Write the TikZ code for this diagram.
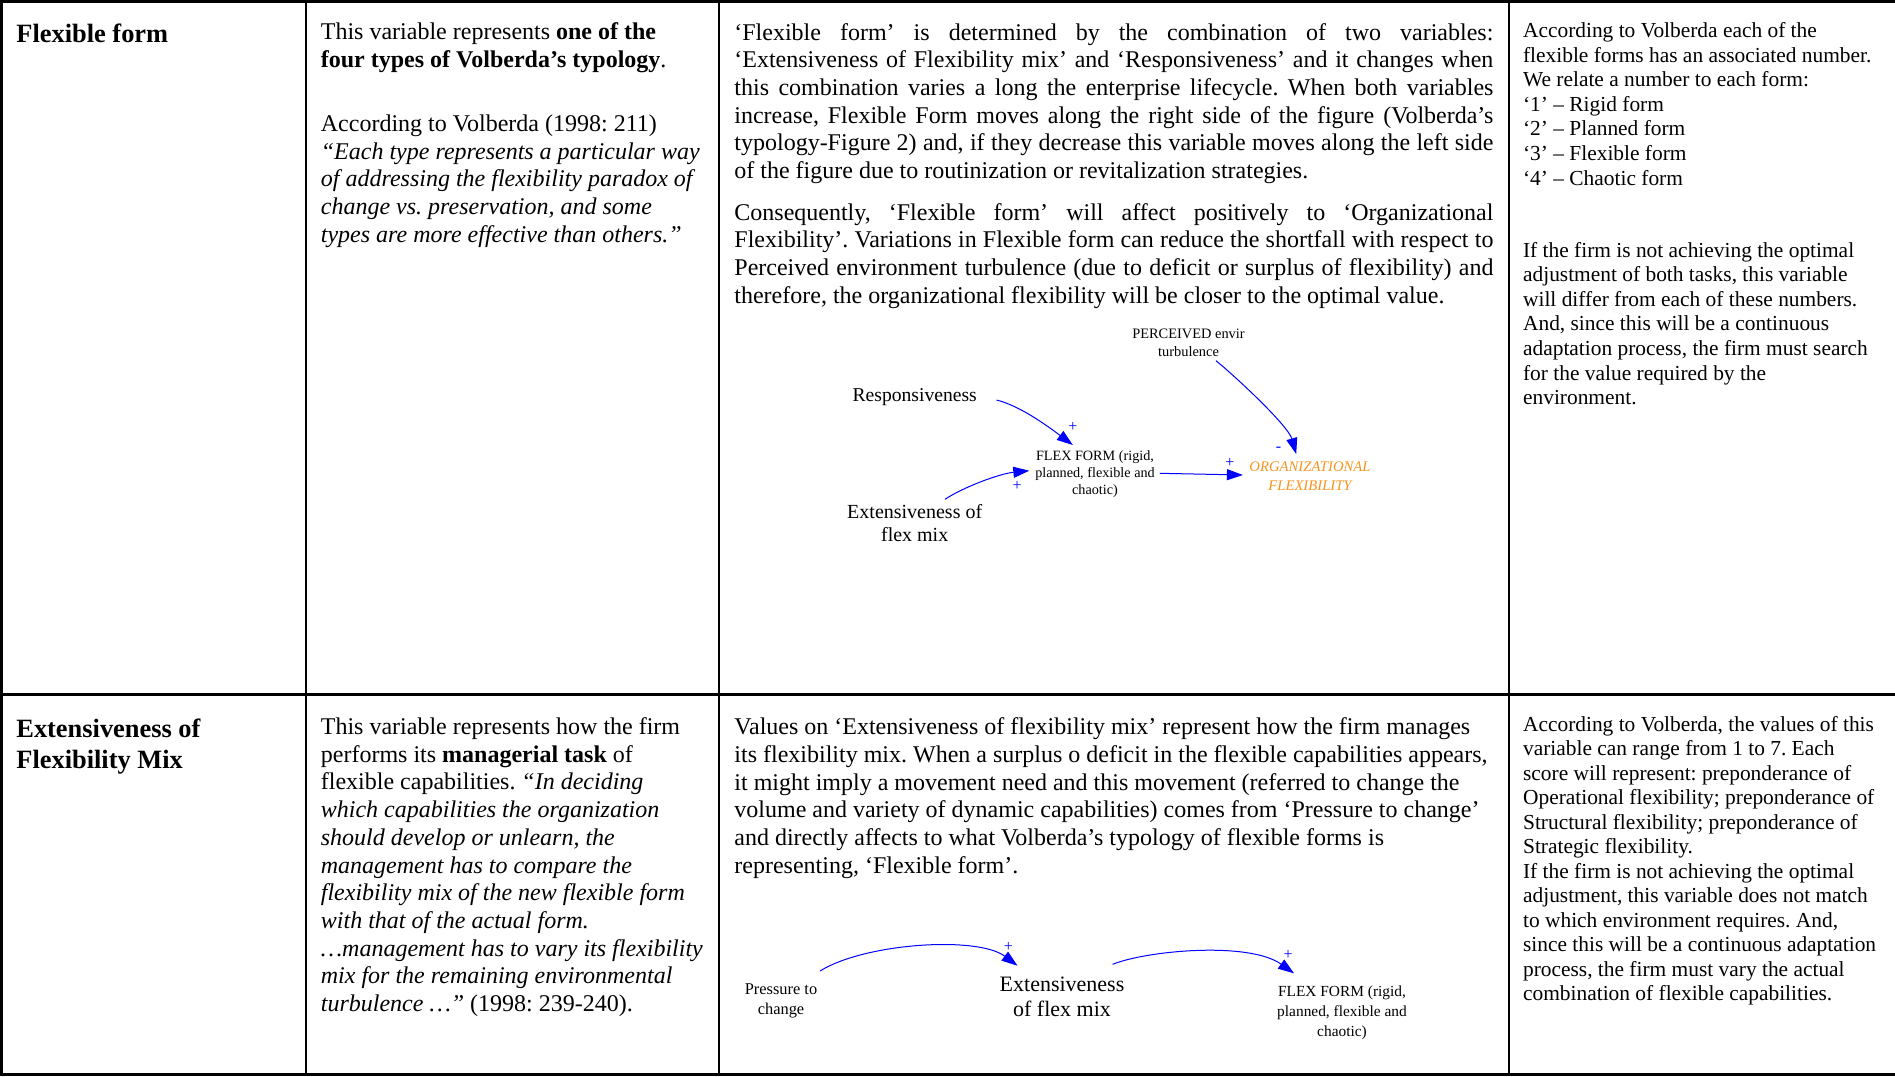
\documentclass[tikz,border=0pt]{standalone}
\usepackage{fontspec}
\setmainfont{Liberation Serif}
\usetikzlibrary{arrows.meta}
\frenchspacing
\definecolor{linkblue}{RGB}{0,0,255}
\definecolor{flexorange}{RGB}{247,148,30}
% use the font's own (stretchable) interword spaces
\newcommand\plainspaces{\spaceskip=0pt\relax\xspaceskip=0pt\relax}
% one fully justified line of a paragraph
\newcommand\jline[1]{\hbox to\linewidth{\plainspaces#1}\par}
\begin{document}
\begin{tikzpicture}[x=0.5pt,y=-0.5pt,
  rule/.style={line width=1.35pt},
  heading/.style={anchor=base west, inner sep=0pt, text width=170pt, align=left,
    font=\fontsize{13.2}{15.5}\selectfont\bfseries},
  celltext/.style={anchor=base west, inner sep=0pt, text width=#1, align=left,
    font=\fontsize{12}{13.85}\selectfont},
  notetext/.style={anchor=base west, inner sep=0pt, text width=186pt, align=left,
    font=\fontsize{10.7}{12.25}\selectfont},
  var/.style={inner sep=0pt, align=center},
  link/.style={draw=linkblue, line width=0.5pt, -{Triangle[length=8pt,width=5.5pt]}},
  pol/.style={inner sep=0pt, text=linkblue, font=\fontsize{8}{8}\selectfont},
]
\useasboundingbox (0,0) rectangle (1895,1076);

% ---- table rules ----
\draw[rule] (0,1.35) -- (1895,1.35);
\draw[rule] (0,694.3) -- (1895,694.3);
\draw[rule] (0,1074.2) -- (1895,1074.2);
\draw[rule] (1.35,0) -- (1.35,1076);
\draw[rule] (306,0) -- (306,1076);
\draw[rule] (719,0) -- (719,1076);
\draw[rule] (1509,0) -- (1509,1076);

% ---- row 1: Flexible form ----
\node[heading] (h1) at (16,42.5) {\plainspaces Flexible form};

\node[celltext=200pt] (typedef) at (320.5,39.5)
  {\plainspaces This variable represents \textbf{one of the}\\
   \textbf{four types of Volberda’s typology}.};
\node[celltext=200pt] (typequote) at (320.5,131.5)
  {\plainspaces According to Volberda (1998: 211)\\
   \textit{“Each type represents a particular way}\\
   \textit{of addressing the flexibility paradox of}\\
   \textit{change vs. preservation, and some}\\
   \textit{types are more effective than others.”}};

\node[celltext=379.5pt] (ffexpl) at (734,40)
  {\plainspaces
   \jline{‘Flexible form’ is determined by the combination of two variables:}
   \jline{‘Extensiveness of Flexibility mix’ and ‘Responsiveness’ and it changes when}
   \jline{this combination varies a long the enterprise lifecycle. When both variables}
   \jline{increase, Flexible Form moves along the right side of the figure (Volberda’s}
   \jline{typology-Figure 2) and, if they decrease this variable moves along the left side}
   of the figure due to routinization or revitalization strategies.};
\node[celltext=379.5pt] (ffconseq) at (734,220)
  {\plainspaces
   \jline{Consequently, ‘Flexible form’ will affect positively to ‘Organizational}
   \jline{Flexibility’. Variations in Flexible form can reduce the shortfall with respect to}
   \jline{Perceived environment turbulence (due to deficit or surplus of flexibility) and}
   therefore, the organizational flexibility will be closer to the optimal value.};

% causal diagram for the flexible form
\node[var, font=\fontsize{7.2}{9.2}\selectfont] (perc) at (1188.5,343) {PERCEIVED envir\\turbulence};
\node[var, font=\fontsize{9.8}{11}\selectfont] (resp) at (914.7,396.7) {Responsiveness};
\node[var, font=\fontsize{7.1}{8.6}\selectfont] (ffa) at (1095,474) {FLEX FORM (rigid,\\planned, flexible and\\chaotic)};
\node[var, font=\fontsize{7.35}{9.6}\selectfont\itshape, text=flexorange] (orgf) at (1310,476.5) {ORGANIZATIONAL\\FLEXIBILITY};
\node[var, font=\fontsize{10}{11.7}\selectfont] (extA) at (914.7,523.3) {Extensiveness of\\flex mix};

\draw[link] ([shift={(81.8,3.3)}]resp.center) .. controls +(25,6) and +(-20,-15) .. ([shift={(-22.2,-29)}]ffa.center);
\draw[link] ([shift={(30.3,-24)}]extA.center) .. controls +(18,-12) and +(-30,3) .. ([shift={(-65.7,-3.3)}]ffa.center);
\draw[link] ([shift={(64.8,-0.7)}]ffa.center) -- ([shift={(-67.1,-1.5)}]orgf.center);
\draw[link] ([shift={(27.5,17.7)}]perc.center) .. controls +(22,18) and +(-8,-28) .. ([shift={(-13.8,-22.5)}]orgf.center);

\node[pol] (pa1) at (1072.8,427.3) {+};
\node[pol] (pa2) at (1017,486) {+};
\node[pol] (pa3) at (1229.8,463.3) {+};
\node[pol] (pa4) at (1278.4,449.3) {-};

\node[notetext, font=\fontsize{10.7}{12.3}\selectfont] (numbers) at (1522.7,37.5)
  {\plainspaces According to Volberda each of the\\
   flexible forms has an associated number.\\
   We relate a number to each form:\\
   ‘1’ – Rigid form\\
   ‘2’ – Planned form\\
   ‘3’ – Flexible form\\
   ‘4’ – Chaotic form};
\node[notetext, font=\fontsize{10.7}{12.3}\selectfont] (search) at (1522.7,257)
  {\plainspaces If the firm is not achieving the optimal\\
   adjustment of both tasks, this variable\\
   will differ from each of these numbers.\\
   And, since this will be a continuous\\
   adaptation process, the firm must search\\
   for the value required by the\\
   environment.};

% ---- row 2: Extensiveness of Flexibility Mix ----
\node[heading] (h2) at (16,737.7) {\plainspaces Extensiveness of\\Flexibility Mix};

\node[celltext=200pt] (mixdef) at (320.5,734.5)
  {\plainspaces This variable represents how the firm\\
   performs its \textbf{managerial task} of\\
   flexible capabilities. \textit{“In deciding}\\
   \textit{which capabilities the organization}\\
   \textit{should develop or unlearn, the}\\
   \textit{management has to compare the}\\
   \textit{flexibility mix of the new flexible form}\\
   \textit{with that of the actual form.}\\
   \textit{…management has to vary its flexibility}\\
   \textit{mix for the remaining environmental}\\
   \textit{turbulence …”} (1998: 239-240).};

\node[celltext=388pt] (mixexpl) at (734,734.6)
  {\plainspaces Values on ‘Extensiveness of flexibility mix’ represent how the firm manages\\
   its flexibility mix. When a surplus o deficit in the flexible capabilities appears,\\
   it might imply a movement need and this movement (referred to change the\\
   volume and variety of dynamic capabilities) comes from ‘Pressure to change’\\
   and directly affects to what Volberda’s typology of flexible forms is\\
   representing, ‘Flexible form’.};

% causal chain for the flexibility mix
\node[var, font=\fontsize{8.2}{10}\selectfont] (press) at (781,1001) {Pressure to\\change};
\node[var, font=\fontsize{11}{12.2}\selectfont] (extB) at (1062,997) {Extensiveness\\of flex mix};
\node[var, font=\fontsize{7.7}{10}\selectfont] (ffb) at (1342,1012.5) {FLEX FORM (rigid,\\planned, flexible and\\chaotic)};

\draw[link] ([shift={(39,-30)}]press.center) .. controls +(45,-28) and +(-40,-30) .. ([shift={(-44.5,-31.3)}]extB.center);
\draw[link] ([shift={(50.6,-32.7)}]extB.center) .. controls +(35,-14) and +(-45,-32) .. ([shift={(-48,-39.2)}]ffb.center);

\node[pol] (pb1) at (1008.3,946.7) {+};
\node[pol] (pb2) at (1288,955) {+};

\node[notetext] (scores) at (1522.7,731)
  {\plainspaces According to Volberda, the values of this\\
   variable can range from 1 to 7. Each\\
   score will represent: preponderance of\\
   Operational flexibility; preponderance of\\
   Structural flexibility; preponderance of\\
   Strategic flexibility.\\
   If the firm is not achieving the optimal\\
   adjustment, this variable does not match\\
   to which environment requires. And,\\
   since this will be a continuous adaptation\\
   process, the firm must vary the actual\\
   combination of flexible capabilities.};
\end{tikzpicture}
\end{document}
